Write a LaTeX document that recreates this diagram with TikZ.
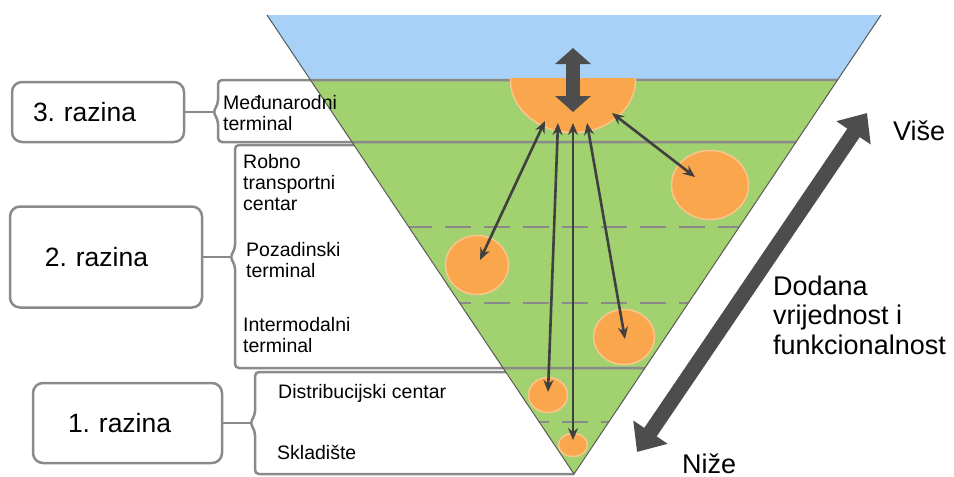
\documentclass[tikz,border=0pt]{standalone}
\usepackage{fontspec}
\setmainfont{Liberation Sans}
\usetikzlibrary{arrows.meta,positioning,shapes.geometric,calc}

\definecolor{skyband}{HTML}{A7D1F6}
\definecolor{grassband}{HTML}{A2D16F}
\definecolor{hubfill}{HTML}{F9A64D}
\definecolor{hubrim}{HTML}{FBC58C}
\definecolor{rulegray}{HTML}{8A8A8A}
\definecolor{edgegray}{HTML}{5A5A5A}
\definecolor{arrowgray}{HTML}{404040}
\definecolor{bigarrowgray}{HTML}{4D4D4D}

\begin{document}
\begin{tikzpicture}[
  x=1pt,y=-1pt,
  levelbox/.style={draw=rulegray, line width=2.5pt, rounded corners=10pt, fill=white, align=left, inner ysep=0pt, font=\fontsize{26.5}{30}\selectfont},
  bracket/.style={draw=rulegray, line width=2.5pt, rounded corners=4pt},
  tierline/.style={draw=rulegray, line width=2.5pt, dash pattern=on 26pt off 13pt},
  tier/.style={anchor=base west, align=left, inner sep=0pt, font=\fontsize{19.5}{21}\selectfont},
  side/.style={anchor=base west, align=left, inner sep=0pt, font=\fontsize{27}{29.5}\selectfont},
  spot/.style={ellipse, fill=hubfill, draw=hubrim, line width=1.5pt, inner sep=0pt},
  link/.style={draw=arrowgray, line width=2.6pt, {Stealth[length=12pt,width=10pt]}-{Stealth[length=12pt,width=10pt]}},
  hubarrow/.style={draw=bigarrowgray, line width=14pt, {Triangle[length=16pt,width=35pt]}-{Triangle[length=16pt,width=35pt]}},
  rangearrow/.style={draw=bigarrowgray, line width=15pt, {Triangle[length=24pt,width=40pt]}-{Triangle[length=24pt,width=40pt]}}
]
\useasboundingbox (0,0) rectangle (954,477);

% inverted pyramid
\coordinate (topL) at (267,15);
\coordinate (topR) at (881,15);
\coordinate (apex) at (574,474);
\fill[grassband] (topL) -- (topR) -- (apex) -- cycle;
\fill[skyband] (topL) -- (topR) -- ($(topR)!65/459!(apex)$) -- ($(topL)!65/459!(apex)$) -- cycle;
\begin{scope}
  \clip (topL) -- (topR) -- (apex) -- cycle;
  \foreach \y in {227,303,422}
    \draw[tierline] (250,\y) -- (900,\y);
\end{scope}

% brackets of the three levels
\coordinate (notch3) at (213,112);
\coordinate (notch2) at (230,257);
\coordinate (notch1) at (250,423);
\draw[bracket] ($(topR)!65/459!(apex)$) -- (218,80) -- (218,104) -- (notch3) -- (218,120) -- (218,142) -- ($(topR)!127/459!(apex)$);
\draw[bracket] ($(topL)!130/459!(apex)$) -- (235,145) -- (235,249) -- (notch2) -- (235,265) -- (235,368) -- ($(topR)!353/459!(apex)$);
\draw[bracket] ($(topL)!357/459!(apex)$) -- (255,372) -- (255,415) -- (notch1) -- (255,431) -- (255,474) -- (apex);
\draw[edgegray, line width=1pt] (topL) -- (apex) -- (topR);

% hubs
\begin{scope}
  \clip (450,78.8) rectangle (700,140);
  \node[spot, minimum width=125pt, minimum height=105pt] (hub) at (573,80) {};
\end{scope}
\node[spot, minimum width=77pt, minimum height=69pt] (robno) at (710,185) {};
\node[spot, minimum width=63pt, minimum height=59pt] (pozadinski) at (477,265) {};
\node[spot, minimum width=61pt, minimum height=55pt] (intermodalni) at (624,337) {};
\node[spot, minimum width=39pt, minimum height=35pt] (distribucijski) at (548,395) {};
\node[spot, minimum width=29pt, minimum height=23pt] (skladiste) at (573,445) {};

\draw[link] ($(hub.center)+(39,33)$) -- ($(robno.center)+(-15,-8)$);
\draw[link] ($(hub.center)+(-28,41)$) -- ($(pozadinski.center)+(3,-5)$);
\draw[link] ($(hub.center)+(-15,43)$) -- ($(distribucijski.center)+(0,-3)$);
\draw[link] ($(hub.center)+(0,43)$) -- ($(skladiste.center)+(0,-5)$);
\draw[link] ($(hub.center)+(14,43)$) -- ($(intermodalni.center)+(1,2)$);

\coordinate (hubtop) at (573,48);
\coordinate (hubbottom) at (573,112);
\draw[hubarrow] (hubtop) -- (hubbottom);
\coordinate (higher) at (867,113);
\coordinate (lower) at (637,452);
\draw[rangearrow] (lower) -- (higher);

% levels
\node[levelbox, text width=130pt, inner xsep=21pt, minimum height=60pt] (level3) at (98,112) {3.\ razina};
\node[levelbox, text width=122pt, inner xsep=35pt, minimum height=101pt] (level2) at (106,257) {2.\ razina};
\node[levelbox, text width=119pt, inner xsep=35pt, minimum height=80pt] (level1) at (127.5,423) {1.\ razina};
\draw[bracket] (level3.east) -- (notch3);
\draw[bracket] (level2.east) -- (notch2);
\draw[bracket] (level1.east) -- (notch1);

% baselines given for the last line
\node[tier] (medunarodni) at (223,130) {Međunarodni\\terminal};
\node[tier] (robnotext) at (243,210) {Robno\\transportni\\centar};
\node[tier] (pozadinskitext) at (246,277) {Pozadinski\\terminal};
\node[tier] (intermodalnitext) at (243,352) {Intermodalni\\terminal};
\node[tier] (distribucijskitext) at (278,398) {Distribucijski centar};
\node[tier] (skladistetext) at (277,459) {Skladište};

\node[side] (vise) at (893,140) {Više};
\node[side] (nize) at (682,473) {Niže};
\node[side] (dodana) at (773,354) {Dodana\\vrijednost i\\funkcionalnost};
\end{tikzpicture}
\end{document}
